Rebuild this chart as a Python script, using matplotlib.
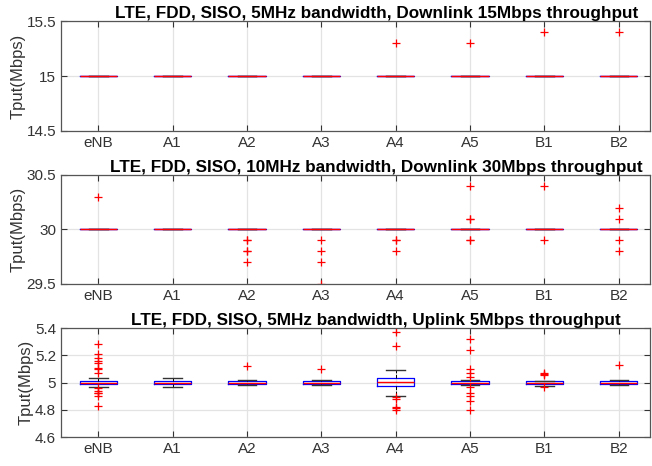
import matplotlib
matplotlib.use("Agg")
import matplotlib.pyplot as plt

plt.rcParams['font.family'] = ['Liberation Sans', 'DejaVu Sans']

labels = ['eNB', 'A1', 'A2', 'A3', 'A4', 'A5', 'B1', 'B2']

# --- downlink 15 Mbps, 5 MHz ---
dl15_med = [15, 15, 15, 15, 15, 15, 15, 15]
dl15_q1 = [15, 15, 15, 15, 15, 15, 15, 15]
dl15_q3 = [15, 15, 15, 15, 15, 15, 15, 15]
dl15_wlo = [15, 15, 15, 15, 15, 15, 15, 15]
dl15_whi = [15, 15, 15, 15, 15, 15, 15, 15]
dl15_fliers = [[], [], [], [], [15.3], [15.3], [15.4], [15.4]]

# --- downlink 30 Mbps, 10 MHz ---
dl30_med = [30, 30, 30, 30, 30, 30, 30, 30]
dl30_q1 = [30, 30, 30, 30, 30, 30, 30, 30]
dl30_q3 = [30, 30, 30, 30, 30, 30, 30, 30]
dl30_wlo = [30, 30, 30, 30, 30, 30, 30, 30]
dl30_whi = [30, 30, 30, 30, 30, 30, 30, 30]
dl30_fliers = [
    [30.3],
    [],
    [29.9, 29.9, 29.8, 29.8, 29.7],
    [29.9, 29.8, 29.7, 29.5],
    [29.9, 29.9, 29.8],
    [30.4, 30.1, 30.1, 29.9, 29.9],
    [30.4, 29.9],
    [30.2, 30.1, 29.9, 29.8],
]

# --- uplink 5 Mbps, 5 MHz ---
ul5_med = [5.0, 5.0, 5.0, 5.0, 5.005, 5.0, 5.0, 5.0]
ul5_q1 = [4.99, 4.99, 4.99, 4.99, 4.975, 4.99, 4.99, 4.99]
ul5_q3 = [5.01, 5.01, 5.01, 5.01, 5.03, 5.01, 5.01, 5.01]
ul5_wlo = [4.97, 4.97, 4.98, 4.98, 4.90, 4.98, 4.975, 4.98]
ul5_whi = [5.03, 5.03, 5.02, 5.02, 5.09, 5.02, 5.01, 5.02]
ul5_fliers = [
    [5.28, 5.21, 5.18, 5.16, 5.14, 5.11, 5.10, 5.07, 4.96, 4.94, 4.92, 4.92, 4.90, 4.83],
    [],
    [5.12],
    [5.10],
    [5.37, 5.27, 4.895, 4.88, 4.82, 4.81, 4.80],
    [5.32, 5.24, 5.10, 5.07, 5.04, 4.965, 4.92, 4.90, 4.865, 4.80],
    [5.07, 5.06, 5.055, 4.965],
    [5.125],
]

titles = [
    'LTE, FDD, SISO, 5MHz bandwidth, Downlink 15Mbps throughput',
    'LTE, FDD, SISO, 10MHz bandwidth, Downlink 30Mbps throughput',
    'LTE, FDD, SISO, 5MHz bandwidth, Uplink 5Mbps throughput',
]
ylims = [(14.5, 15.5), (29.5, 30.5), (4.6, 5.4)]
yticks = [[14.5, 15, 15.5], [29.5, 30, 30.5], [4.6, 4.8, 5.0, 5.2, 5.4]]
yticklabels = [['14.5', '15', '15.5'], ['29.5', '30', '30.5'],
               ['4.6', '4.8', '5', '5.2', '5.4']]

panels = [
    (dl15_med, dl15_q1, dl15_q3, dl15_wlo, dl15_whi, dl15_fliers),
    (dl30_med, dl30_q1, dl30_q3, dl30_wlo, dl30_whi, dl30_fliers),
    (ul5_med, ul5_q1, ul5_q3, ul5_wlo, ul5_whi, ul5_fliers),
]


def make_stats(med, q1, q3, wlo, whi, fliers):
    stats = []
    for i in range(len(labels)):
        stats.append(dict(med=med[i], q1=q1[i], q3=q3[i], whislo=wlo[i],
                          whishi=whi[i], fliers=fliers[i], label=labels[i]))
    return stats


fig = plt.figure(figsize=(6.52, 4.66), dpi=100)
axes_pos = [
    [0.0936, 0.7189, 0.9034, 0.236],
    [0.0936, 0.3906, 0.9034, 0.2339],
    [0.0936, 0.0622, 0.9034, 0.2339],
]
dark = '#333333'

for k in range(3):
    ax = fig.add_axes(axes_pos[k])
    ax.grid(True, color='#e3e3e3', linewidth=0.9)
    ax.set_axisbelow(True)
    ax.bxp(make_stats(*panels[k]), positions=range(1, 9), widths=0.5,
           capwidths=0.25,
           boxprops=dict(color='blue', linewidth=0.9),
           medianprops=dict(color='red', linewidth=1.0),
           whiskerprops=dict(color='black', linewidth=0.7, linestyle='--'),
           capprops=dict(color='#333333', linewidth=1.0),
           flierprops=dict(marker='+', markeredgecolor='red', markersize=6,
                           markeredgewidth=0.9, linestyle='none'))
    ax.set_xlim(0.5, 8.42)
    ax.set_ylim(*ylims[k])
    ax.set_yticks(yticks[k])
    ax.set_yticklabels(yticklabels[k])
    ax.set_xticks(range(1, 9))
    ax.set_xticklabels(labels)
    ax.tick_params(direction='in', top=True, right=True, length=4,
                   labelsize=11, colors=dark, width=0.8)
    for s in ax.spines.values():
        s.set_color('#555555')
        s.set_linewidth(0.9)
    ax.set_ylabel('Tput(Mbps)', fontsize=12, color=dark, labelpad=1)
    ax.set_title(titles[k], fontsize=12.3, fontweight='bold', x=0.535, pad=2)

fig.savefig('out.png', dpi=100)
